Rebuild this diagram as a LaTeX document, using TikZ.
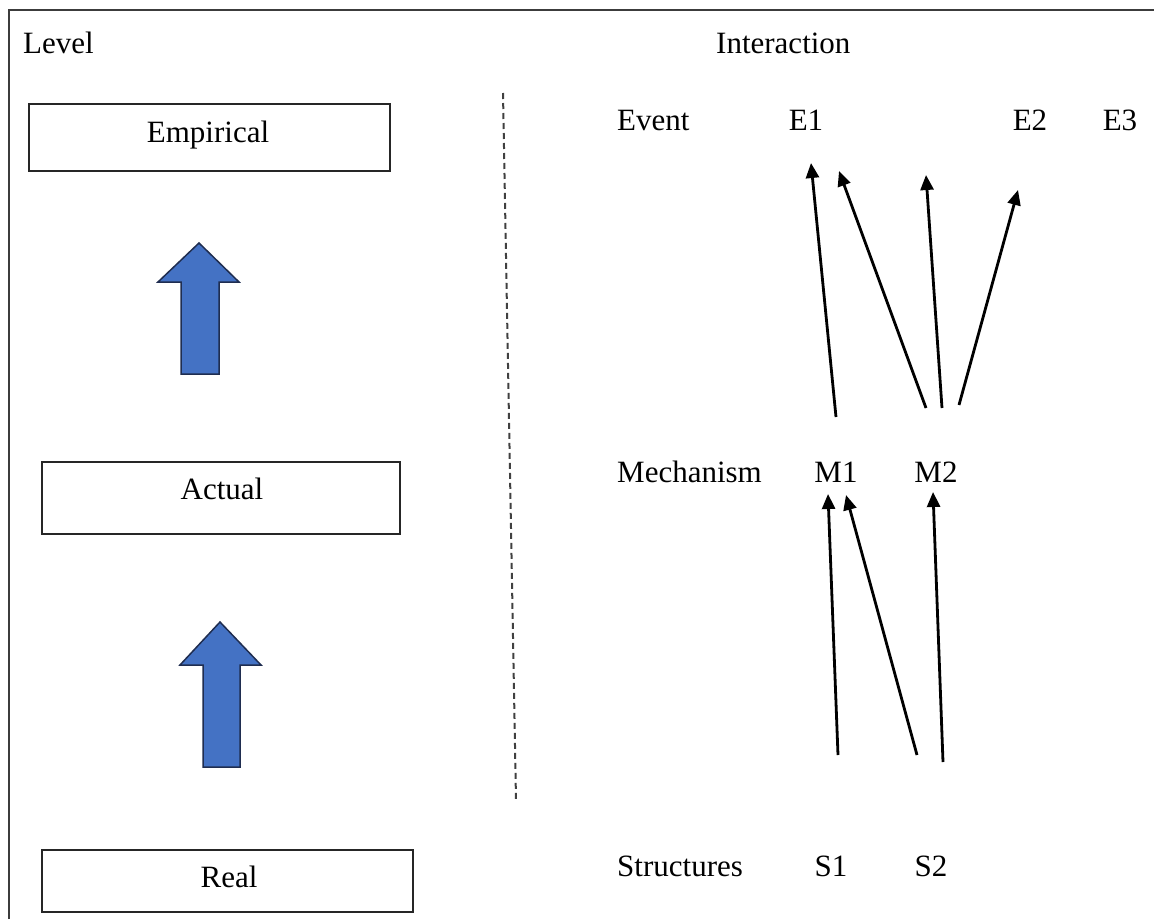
\documentclass[tikz,border=0pt]{standalone}
\usepackage{fontspec}
\setmainfont{Liberation Serif}
\usetikzlibrary{arrows.meta}
\definecolor{arrowblue}{HTML}{4472C4}
\definecolor{arrowedge}{HTML}{1F2D50}
\definecolor{framegray}{HTML}{3C3C3C}
\begin{document}
\begin{tikzpicture}[x=1pt,y=-1pt,
  lbl/.style={font=\fontsize{31}{36}\selectfont, inner sep=0pt, anchor=base},
  levelbox/.style={draw=black!85, line width=2pt},
  link/.style={line width=2.8pt, -{Triangle[length=15pt,width=13pt]}},
  bigarrow/.style={fill=arrowblue, draw=arrowedge, line width=1.5pt, line join=miter}]
\useasboundingbox (0,0) rectangle (1154,919);
% outer frame (top and left edges)
\draw[framegray, line width=2.2pt] (9,919) -- (9,10) -- (1154,10);
% headings
\node[lbl, anchor=base west] (level) at (23,53) {Level};
\node[lbl, anchor=base west] (interaction) at (716,53) {Interaction};
% level boxes
\draw[levelbox] (29,104) rectangle (390,171);
\node[lbl] (empirical) at (208,142) {Empirical};
\draw[levelbox] (42,462) rectangle (400,534);
\node[lbl] (actual) at (222,499) {Actual};
\draw[levelbox] (42,850) rectangle (413,912);
\node[lbl] (real) at (229,887) {Real};
% block arrows between levels
\draw[bigarrow] (199,243) -- (239,282) -- (219,282) -- (219,374) -- (181,374) -- (181,282) -- (158,282) -- cycle;
\draw[bigarrow] (220,622) -- (261,665) -- (240,665) -- (240,767) -- (203,767) -- (203,665) -- (180,665) -- cycle;
% separator
\draw[black!75, line width=2pt, dash pattern=on 6pt off 4pt] (503,93) -- (516,800);
% interaction rows
\node[lbl, anchor=base west] (event) at (617,130) {Event};
\node[lbl] (e1) at (806,130) {E1};
\node[lbl] (e2) at (1030,130) {E2};
\node[lbl] (e3) at (1120,130) {E3};
\node[lbl, anchor=base west] (mechanism) at (617,482) {Mechanism};
\node[lbl] (m1) at (836,482) {M1};
\node[lbl] (m2) at (936,482) {M2};
\node[lbl, anchor=base west] (structures) at (617,876) {Structures};
\node[lbl] (s1) at (831,876) {S1};
\node[lbl] (s2) at (931,876) {S2};
% connector ends
\coordinate (m1a) at (836,417);
\coordinate (m2a) at (926,408);
\coordinate (m2b) at (942,408);
\coordinate (m2c) at (959,405);
\coordinate (e1a) at (811,163);
\coordinate (e1b) at (839,171);
\coordinate (eza) at (926,175);
\coordinate (e2a) at (1018,190);
\coordinate (s1a) at (838,755);
\coordinate (s2a) at (917,755);
\coordinate (s2b) at (943,762);
\coordinate (m1b) at (828,494);
\coordinate (m1c) at (846,495);
\coordinate (m2d) at (933,492);
% mechanisms producing events
\draw[link] (m1a) -- (e1a);
\draw[link] (m2a) -- (e1b);
\draw[link] (m2b) -- (eza);
\draw[link] (m2c) -- (e2a);
% structures producing mechanisms
\draw[link] (s1a) -- (m1b);
\draw[link] (s2a) -- (m1c);
\draw[link] (s2b) -- (m2d);
\end{tikzpicture}
\end{document}
